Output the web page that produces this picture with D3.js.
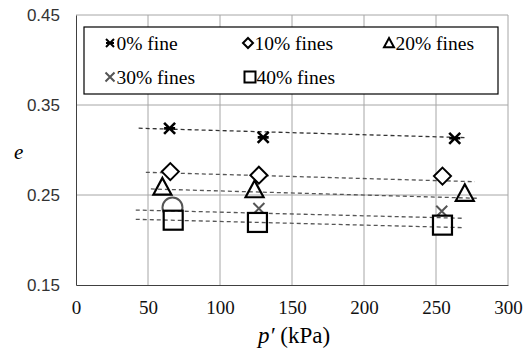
<!DOCTYPE html>
<html><head><meta charset="utf-8">
<script src="https://cdn.jsdelivr.net/npm/d3@7"></script>
<style>
body{margin:0;background:#fff}
svg text{font-family:"Liberation Serif","Times New Roman",serif}
svg text.ytick{font-family:"Liberation Sans",Arial,sans-serif}
</style>
</head><body>
<script>
const xTicks = [0, 50, 100, 150, 200, 250, 300];
const yTicks = [0.15, 0.25, 0.35, 0.45];
const seriesNames = ["0% fine", "10% fines", "20% fines", "30% fines", "40% fines"];
const seriesSymbols = ["asterisk", "diamond", "triangle", "cross", "square"];
const p0 = [65, 130, 263];   const e0 = [0.324, 0.314, 0.313];
const p10 = [65.5, 127, 254.5]; const e10 = [0.276, 0.272, 0.271];
const p20 = [60, 124, 270]; const e20 = [0.259, 0.256, 0.252];
const p30 = [67, 127, 254]; const e30 = [0.236, 0.235, 0.232];
const sym30 = ["circle", "cross", "cross"];
const p40 = [67.5, 126, 254.5]; const e40 = [0.222, 0.2195, 0.2165];
// trend lines: [p start, e start, p end, e end]
const trend0 = [43.5, 0.3242, 271, 0.3137];
const trend10 = [48.5, 0.2752, 277, 0.2648];
const trend20 = [52, 0.2567, 280, 0.2463];
const trend30 = [41.5, 0.2333, 269.5, 0.2241];
const trend40 = [41.5, 0.2230, 269.5, 0.2137];

const W = 531, H = 351;
const svg = d3.select("body").append("svg").attr("width", W).attr("height", H);
const x = d3.scaleLinear().domain([0, 300]).range([76, 508]);
const y = d3.scaleLinear().domain([0.15, 0.45]).range([285, 15]);

// grid
const g = svg.append("g");
g.selectAll(".vg").data(xTicks.slice(1)).join("line")
  .attr("x1", d => x(d)).attr("x2", d => x(d)).attr("y1", y(0.45)).attr("y2", y(0.15))
  .attr("stroke", "#a6a6a6").attr("stroke-width", 1);
g.selectAll(".hg").data(yTicks.slice(1)).join("line")
  .attr("x1", x(0)).attr("x2", x(300)).attr("y1", d => y(d)).attr("y2", d => y(d))
  .attr("stroke", "#a6a6a6").attr("stroke-width", 1);

// axes
const xAxis = d3.axisBottom(x).tickValues(xTicks).tickSize(0).tickPadding(16);
const xa = svg.append("g").attr("transform", `translate(0,${y(0.15)})`).call(xAxis);
xa.attr("font-family", null).attr("font-size", 19);
xa.select(".domain").attr("stroke", "#404040");
xa.selectAll("text").attr("font-size", 19).attr("fill", "#111");
const yAxis = d3.axisLeft(y).tickValues(yTicks).tickFormat(d3.format(".2f")).tickSize(0).tickPadding(16);
const ya = svg.append("g").attr("transform", `translate(${x(0)},0)`).call(yAxis);
ya.attr("font-family", null).attr("font-size", 17);
ya.select(".domain").attr("stroke", "#404040");
ya.selectAll("text").attr("class", "ytick").attr("font-size", 17).attr("fill", "#333");

// titles
svg.append("text").attr("x", 14).attr("y", 159)
  .attr("font-style", "italic").attr("font-size", 21).text("e");
const xt = svg.append("text").attr("x", x(150) + 2).attr("y", 343).attr("text-anchor", "middle")
  .attr("font-size", 23);
xt.append("tspan").attr("font-style", "italic").text("p′");
xt.append("tspan").text(" (kPa)");

// symbols
function drawSym(sel, type, cx, cy, s) {
  const gg = sel.append("g").attr("transform", `translate(${cx},${cy})`);
  const r = s / 2;
  if (type === "asterisk") {
    gg.append("path").attr("d", `M${-r},${-r}L${r},${r}M${-r},${r}L${r},${-r}M${-r},0L${r},0`)
      .attr("stroke", "#000").attr("stroke-width", 2.6);
  } else if (type === "diamond") {
    gg.append("path").attr("d", `M0,${-r}L${r},0L0,${r}L${-r},0Z`).attr("fill", "#fff")
      .attr("stroke", "#000").attr("stroke-width", 2);
  } else if (type === "triangle") {
    gg.append("path").attr("d", `M0,${-r}L${r},${r*0.85}L${-r},${r*0.85}Z`).attr("fill", "none")
      .attr("stroke", "#000").attr("stroke-width", 2.2);
  } else if (type === "cross") {
    gg.append("path").attr("d", `M${-r},${-r}L${r},${r}M${-r},${r}L${r},${-r}`)
      .attr("stroke", "#555").attr("stroke-width", 2);
  } else if (type === "circle") {
    gg.append("circle").attr("r", r).attr("fill", "#fff").attr("stroke", "#555").attr("stroke-width", 2);
  } else if (type === "square") {
    gg.append("rect").attr("x", -r).attr("y", -r).attr("width", s).attr("height", s)
      .attr("fill", "none").attr("stroke", "#000").attr("stroke-width", 2.2);
  }
  return gg;
}
const pts = svg.append("g");
const trends = [trend0, trend10, trend20, trend30, trend40];
const trendLine = (sel, d, i) => sel.append("line")
  .attr("x1", x(d[0])).attr("y1", y(d[1])).attr("x2", x(d[2])).attr("y2", y(d[3]))
  .attr("stroke", i === 0 ? "#333" : "#555").attr("stroke-width", 1.3).attr("stroke-dasharray", "4,3");
trends.slice(0, 3).forEach((d, i) => trendLine(pts, d, i));
p0.forEach((p, i) => drawSym(pts, "asterisk", x(p), y(e0[i]), 11));
p10.forEach((p, i) => drawSym(pts, "diamond", x(p), y(e10[i]), 17));
p20.forEach((p, i) => drawSym(pts, "triangle", x(p), y(e20[i]), 18));
p30.forEach((p, i) => drawSym(pts, sym30[i], x(p), y(e30[i]), sym30[i] === "circle" ? 20 : 11));
// white backing so squares cover the markers beneath
p40.forEach((p, i) => {
  const s = 20;
  pts.append("rect").attr("x", x(p) - s/2).attr("y", y(e40[i]) - s/2).attr("width", s).attr("height", s).attr("fill", "#fff");
});
trends.slice(3).forEach((d, i) => trendLine(pts, d, i + 3));
p40.forEach((p, i) => drawSym(pts, "square", x(p), y(e40[i]), 19));

// legend
svg.append("rect").attr("x", 84).attr("y", 27).attr("width", 414).attr("height", 67)
  .attr("fill", "#fff").attr("stroke", "#000").attr("stroke-width", 1.2);
const legPos = [[110, 43], [248, 43], [389, 43], [110, 77], [250, 77]];
const legSize = [8, 10, 10, 9, 11];
seriesNames.forEach((n, i) => {
  const [lx, ly] = legPos[i];
  const s = drawSym(svg, seriesSymbols[i], lx, ly, legSize[i]);
  s.selectAll("path,rect").attr("stroke-width", 2);
  svg.append("text").attr("x", lx + 6.5).attr("y", ly + 6.5)
    .attr("font-size", 19.5).text(n);
});
</script>
</body></html>
